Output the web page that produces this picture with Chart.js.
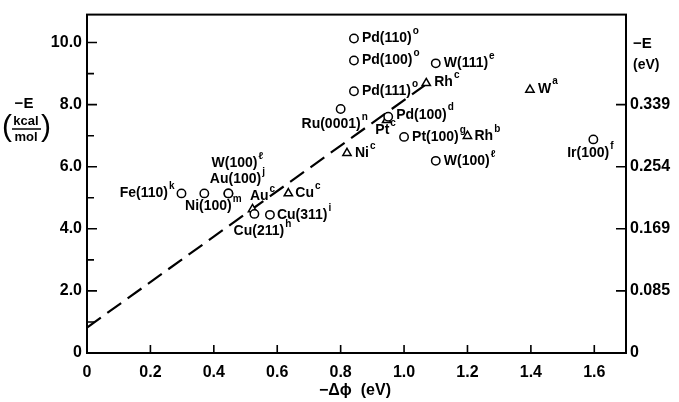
<!DOCTYPE html>
<html>
<head>
<meta charset="utf-8">
<script src="https://cdn.jsdelivr.net/npm/chart.js@4"></script>
<style>
  html, body { margin: 0; padding: 0; background: #fff; }
  #wrap { width: 679px; height: 402px; }
</style>
</head>
<body>
<div id="wrap"><canvas id="c" width="679" height="402"></canvas></div>
<script>
// ---- data ----
const circleNames = ['Pd(110)', 'Pd(100)', 'Pd(111)', 'W(111)', 'Ru(0001)', 'Pd(100)', 'Pt(100)', 'W(100)', 'Ir(100)',
                     'Fe(110)', 'Ni(100)', 'Au(100)', 'W(100)', 'Cu(211)', 'Cu(311)'];
const circleSups  = ['o', 'o', 'o', 'e', 'n', 'd', 'g', 'ℓ', 'f', 'k', 'm', 'j', 'ℓ', 'h', 'i'];
const circleX     = [0.842, 0.842, 0.842, 1.10, 0.80, 0.95, 1.00, 1.10, 1.597, 0.298, 0.37, 0.446, 0.446, 0.528, 0.577];
const circleY     = [10.13, 9.42, 8.43, 9.33, 7.86, 7.61, 6.96, 6.19, 6.88, 5.14, 5.14, 5.14, 5.14, 4.48, 4.45];

const triNames = ['Rh', 'Pt', 'Rh', 'Ni', 'W', 'Au', 'Cu'];
const triSups  = ['c', 'c', 'b', 'c', 'a', 'c', 'c'];
const triX     = [1.07, 0.945, 1.20, 0.82, 1.397, 0.522, 0.635];
const triY     = [8.69, 7.50, 6.99, 6.44, 8.48, 4.63, 5.14];

const fitX = [0, 1.065];
const fitY = [0.82, 8.62];

const xTicks = [0, 0.2, 0.4, 0.6, 0.8, 1.0, 1.2, 1.4, 1.6];
const xTickLabels = ['0', '0.2', '0.4', '0.6', '0.8', '1.0', '1.2', '1.4', '1.6'];
const yTicks = [0, 2, 4, 6, 8, 10];
const yTickLabels = ['0', '2.0', '4.0', '6.0', '8.0', '10.0'];
const yMinorTicks = [1, 3, 5, 7, 9];
const eVTicks = [0, 2, 4, 6, 8];
const eVTickLabels = ['0', '0.085', '0.169', '0.254', '0.339'];

// ---- label placement (style only: pixel offsets and alignment) ----
const circleLabelPlace = [
  [8, 0, 'left'], [8, 0, 'left'], [8, 0, 'left'], [8, 0, 'left'],
  [-6, 15, 'center'], [8, -2, 'left'], [8, 0, 'left'], [8, 0, 'left'],
  [-3, 14, 'center'], [-7, 0, 'right'], [9, 13, 'center'], [9, -14, 'center'],
  [9, -30, 'center'], [8, 17, 'center'], [7, 0, 'left']
];
const triLabelPlace = [
  [8, -1, 'left'], [-1, 10, 'center'], [7, 0, 'left'], [8, 0, 'left'],
  [8, -1, 'left'], [10, -13, 'center'], [7, 0, 'left']
];

const FONT = "'Liberation Sans', Arial, sans-serif";
const baseFont = 'bold 14px ' + FONT;
const supFont = 'bold 10px ' + FONT;

function drawLabel(ctx, x, y, base, sup, align) {
  ctx.font = baseFont;
  const w1 = ctx.measureText(base).width;
  ctx.font = supFont;
  const w2 = ctx.measureText(sup).width;
  const total = w1 + 1 + w2;
  let sx = x;
  if (align === 'right') sx = x - total;
  else if (align === 'center') sx = x - total / 2;
  ctx.textAlign = 'left';
  ctx.textBaseline = 'middle';
  ctx.fillStyle = '#000';
  ctx.font = baseFont;
  ctx.fillText(base, sx, y);
  ctx.font = supFont;
  ctx.fillText(sup, sx + w1 + 1, y - 7);
}

const decor = {
  id: 'decor',
  afterDatasetsDraw(chart) {
    const ctx = chart.ctx;
    const a = chart.chartArea;
    const xs = chart.scales.x, ys = chart.scales.y;
    ctx.save();
    // frame
    ctx.strokeStyle = '#000';
    ctx.lineWidth = 2;
    ctx.strokeRect(a.left, a.top, a.right - a.left, a.bottom - a.top);
    // inward ticks
    ctx.lineWidth = 1.6;
    ctx.beginPath();
    xTicks.forEach(v => { const p = xs.getPixelForValue(v); ctx.moveTo(p, a.bottom); ctx.lineTo(p, a.bottom - 8); });
    yTicks.forEach(v => { const p = ys.getPixelForValue(v); ctx.moveTo(a.left, p); ctx.lineTo(a.left + 10, p); });
    yMinorTicks.forEach(v => { const p = ys.getPixelForValue(v); ctx.moveTo(a.left, p); ctx.lineTo(a.left + 7, p); });
    eVTicks.forEach(v => { if (v === 0) return; const p = ys.getPixelForValue(v); ctx.moveTo(a.right, p); ctx.lineTo(a.right - 10, p); });
    ctx.stroke();

    // point labels
    const mc = chart.getDatasetMeta(0), mt = chart.getDatasetMeta(1);
    mc.data.forEach((el, i) => {
      const pl = circleLabelPlace[i];
      drawLabel(ctx, el.x + pl[0], el.y + pl[1], circleNames[i], circleSups[i], pl[2]);
    });
    mt.data.forEach((el, i) => {
      const pl = triLabelPlace[i];
      drawLabel(ctx, el.x + pl[0], el.y + pl[1], triNames[i], triSups[i], pl[2]);
    });

    // axis titles
    ctx.fillStyle = '#000';
    ctx.textBaseline = 'middle';
    ctx.textAlign = 'center';
    ctx.font = 'bold 15px ' + FONT;
    ctx.fillText('−E', 24, 104);
    ctx.font = 'bold 13px ' + FONT;
    ctx.fillText('kcal', 26, 121);
    ctx.fillText('mol', 26, 137);
    ctx.lineWidth = 1.5;
    ctx.beginPath(); ctx.moveTo(12, 129); ctx.lineTo(41, 129); ctx.stroke();
    ctx.font = '30px ' + FONT;
    ctx.fillText('(', 7, 128);
    ctx.fillText(')', 46, 128);

    ctx.textAlign = 'left';
    ctx.font = 'bold 15px ' + FONT;
    ctx.fillText('−E', 633, 44);
    ctx.font = 'bold 14px ' + FONT;
    ctx.fillText('(eV)', 633, 65);

    ctx.textAlign = 'center';
    ctx.font = 'bold 16px ' + FONT;
    ctx.fillText('−Δϕ  (eV)', 355, 391);
    ctx.restore();
  }
};

const tickFont = { family: FONT, size: 16, weight: 'bold' };

new Chart(document.getElementById('c'), {
  type: 'scatter',
  data: {
    datasets: [
      {
        data: circleX.map((x, i) => ({ x, y: circleY[i] })),
        pointStyle: 'circle', pointRadius: 4.2, pointBorderWidth: 1.5,
        borderColor: '#000', backgroundColor: '#fff', yAxisID: 'y'
      },
      {
        data: triX.map((x, i) => ({ x, y: triY[i] })),
        pointStyle: 'triangle', pointRadius: 4.8, pointBorderWidth: 1.5,
        borderColor: '#000', backgroundColor: '#fff', yAxisID: 'y'
      },
      {
        type: 'line',
        data: fitX.map((x, i) => ({ x, y: fitY[i] })),
        borderColor: '#000', borderWidth: 2.2, borderDash: [17, 8],
        pointRadius: 0, fill: false, yAxisID: 'y', order: 5
      }
    ]
  },
  options: {
    responsive: false,
    animation: false,
    devicePixelRatio: 1,
    layout: { padding: { top: 13, left: 0, right: 0, bottom: 0 } },
    plugins: { legend: { display: false }, tooltip: { enabled: false } },
    scales: {
      x: {
        type: 'linear', min: 0, max: 1.7,
        grid: { display: false, drawTicks: false },
        border: { display: false },
        afterBuildTicks: s => { s.ticks = xTicks.map(v => ({ value: v })); },
        afterFit: s => { s.height = 49; },
        ticks: {
          padding: 10, color: '#000', font: tickFont, maxRotation: 0, autoSkip: false,
          callback: (v) => { const i = xTicks.findIndex(t => Math.abs(t - v) < 1e-9); return i >= 0 ? xTickLabels[i] : ''; }
        }
      },
      y: {
        type: 'linear', position: 'left', min: 0, max: 10.9,
        grid: { display: false, drawTicks: false },
        border: { display: false },
        afterBuildTicks: s => { s.ticks = yTicks.map(v => ({ value: v })); },
        afterFit: s => { s.width = 87; },
        ticks: {
          padding: 5, color: '#000', font: tickFont, autoSkip: false,
          callback: (v) => { const i = yTicks.indexOf(v); return i >= 0 ? yTickLabels[i] : ''; }
        }
      },
      y2: {
        type: 'linear', position: 'right', min: 0, max: 10.9,
        grid: { display: false, drawTicks: false },
        border: { display: false },
        afterBuildTicks: s => { s.ticks = eVTicks.map(v => ({ value: v })); },
        afterFit: s => { s.width = 53; },
        ticks: {
          padding: 4, color: '#000', font: tickFont, autoSkip: false,
          callback: (v) => { const i = eVTicks.indexOf(v); return i >= 0 ? eVTickLabels[i] : ''; }
        }
      }
    }
  },
  plugins: [decor]
});
</script>
</body>
</html>
